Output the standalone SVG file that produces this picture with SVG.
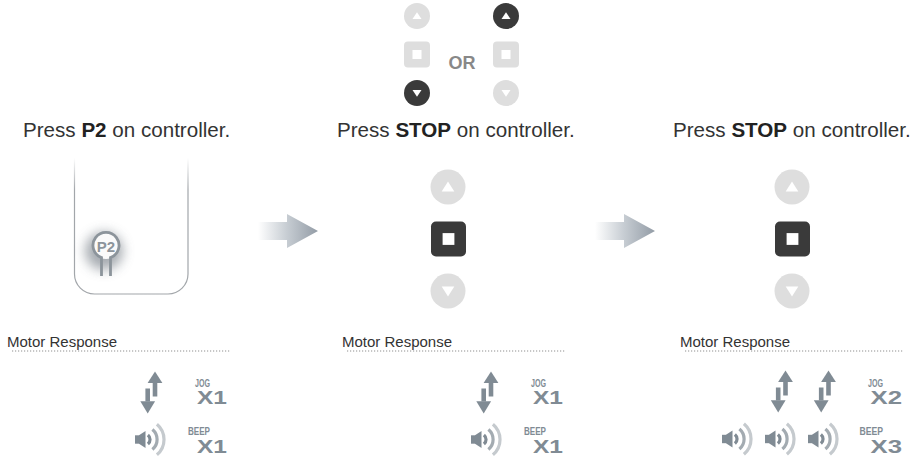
<svg xmlns="http://www.w3.org/2000/svg" width="921" height="460" viewBox="0 0 921 460">
<defs>
<style>
.title{font-family:"Liberation Sans",Arial,sans-serif;font-size:20.6px;fill:#333}
.title tspan.b{font-weight:bold;fill:#222}
.mr{font-family:"Liberation Sans",Arial,sans-serif;font-size:15px;fill:#333}
.dots{stroke:#8f8f8f;stroke-width:1.2;stroke-dasharray:1.2 1.8;fill:none}
.lt{fill:#dedede}
.dk{fill:#3a3a3a}
.wh{fill:#ffffff}
.ic{fill:#808b94}
.sm{font-family:"Liberation Sans",Arial,sans-serif;font-weight:bold;font-size:10.5px;fill:#808b94;text-anchor:end}
.big{font-family:"Liberation Sans",Arial,sans-serif;font-weight:bold;font-size:19px;fill:#808b94;text-anchor:end}
.a1{fill:none;stroke:#808b94;stroke-width:3.2}
.a2{fill:none;stroke:#a3abb1;stroke-width:3.2}
.a3{fill:none;stroke:#c5cace;stroke-width:3.2}
</style>
<linearGradient id="arrowGrad" x1="0" y1="0" x2="1" y2="0">
<stop offset="0" stop-color="#ffffff"/>
<stop offset="0.48" stop-color="#c7cdd3"/>
<stop offset="1" stop-color="#939ca6"/>
</linearGradient>
<linearGradient id="ctrlGrad" gradientUnits="userSpaceOnUse" x1="0" y1="158" x2="0" y2="190">
<stop offset="0" stop-color="#a2a6aa" stop-opacity="0"/>
<stop offset="1" stop-color="#a2a6aa" stop-opacity="1"/>
</linearGradient>
<filter id="glow" x="-100%" y="-100%" width="300%" height="300%">
<feGaussianBlur stdDeviation="6"/>
</filter>
<g id="jog">
<polygon class="ic" points="0,0 7.4,11.5 -7.4,11.5"/>
<rect class="ic" x="-2.3" y="11.3" width="4.6" height="13.7"/>
<rect class="ic" x="-9.6" y="17" width="4.6" height="13"/>
<polygon class="ic" points="-7.3,42 -14.7,29.7 0.1,29.7"/>
</g>
<g id="spk">
<rect class="ic" x="0" y="-4.2" width="4.5" height="8.4"/>
<polygon class="ic" points="4,-4.2 10.5,-8.5 10.5,8.5 4,4.2"/>
<path class="a1" d="M12.9,-4.6 A6,6 0 0 1 12.9,4.6"/>
<path class="a2" d="M17.4,-10 A13,13 0 0 1 17.4,10"/>
<path class="a3" d="M21.9,-15.3 A20,20 0 0 1 21.9,15.3"/>
</g>
<g id="btnUpL"><circle class="lt" r="17.5"/><polygon class="wh" points="0,-5.5 6.3,4.5 -6.3,4.5"/></g>
<g id="btnDnL"><circle class="lt" r="17.5"/><polygon class="wh" points="0,5.5 6.3,-4.5 -6.3,-4.5"/></g>
<g id="btnStopD"><rect class="dk" x="-17.5" y="-17.5" width="35" height="35" rx="5"/><rect class="wh" x="-5.9" y="-5.9" width="11.8" height="11.8"/></g>
</defs>
<rect width="921" height="460" fill="#ffffff"/>

<g id="choice">
<circle class="lt" cx="417" cy="16" r="13"/><polygon class="wh" points="417,12.3 421.5,19 412.5,19"/>
<rect class="lt" x="404" y="41.5" width="26" height="26" rx="4"/><rect class="wh" x="412.5" y="50" width="9" height="9"/>
<circle class="dk" cx="417" cy="93" r="13"/><polygon class="wh" points="417,96.7 421.5,90 412.5,90"/>
<circle class="dk" cx="506" cy="16" r="13"/><polygon class="wh" points="506,12.3 510.5,19 501.5,19"/>
<rect class="lt" x="493" y="41.5" width="26" height="26" rx="4"/><rect class="wh" x="501.5" y="50" width="9" height="9"/>
<circle class="lt" cx="506" cy="93" r="13"/><polygon class="wh" points="506,96.7 510.5,90 501.5,90"/>
<text x="462" y="69" text-anchor="middle" font-family="'Liberation Sans',Arial,sans-serif" font-weight="bold" font-size="18" fill="#888888">OR</text>
</g>

<g id="step1">
<text class="title" x="23" y="137">Press <tspan class="b">P2</tspan> on controller.</text>
<path d="M74.5,158 V274 A20,20 0 0 0 94.5,294 H168 A20,20 0 0 0 188,274 V158" fill="none" stroke="url(#ctrlGrad)" stroke-width="1.2"/>
<circle cx="104" cy="251" r="19" fill="#8a9198" opacity="0.75" filter="url(#glow)"/>
<circle cx="106" cy="246" r="13" fill="#fafafa"/>
<path d="M101.5,276 V257.6 A13,13 0 1 1 110.5,257.6 V276" fill="none" stroke="#8c949b" stroke-width="2.8"/>
<text x="106" y="251.6" text-anchor="middle" font-family="'Liberation Sans',Arial,sans-serif" font-weight="bold" font-size="15" fill="#8c949b">P2</text>
</g>

<g id="step2">
<text class="title" x="337" y="137">Press <tspan class="b">STOP</tspan> on controller.</text>
<use href="#btnUpL" x="448" y="187"/>
<use href="#btnStopD" x="448.5" y="239"/>
<use href="#btnDnL" x="448" y="291"/>
</g>

<g id="step3">
<text class="title" x="673" y="137">Press <tspan class="b">STOP</tspan> on controller.</text>
<use href="#btnUpL" x="792" y="187"/>
<use href="#btnStopD" x="792.5" y="239"/>
<use href="#btnDnL" x="792" y="291"/>
</g>

<g id="response1">
<text class="mr" x="7" y="346.5">Motor Response</text>
<line class="dots" x1="12" y1="351" x2="230" y2="351"/>
<use href="#jog" x="155" y="371.5"/>
<use href="#spk" x="135" y="439.5"/>
<text class="sm" x="210" y="386.5" textLength="15" lengthAdjust="spacingAndGlyphs">JOG</text>
<text class="big" x="227" y="404" textLength="30" lengthAdjust="spacingAndGlyphs">X1</text>
<text class="sm" x="210" y="435" textLength="22" lengthAdjust="spacingAndGlyphs">BEEP</text>
<text class="big" x="227" y="452.5" textLength="30" lengthAdjust="spacingAndGlyphs">X1</text>
</g>

<g id="response2">
<text class="mr" x="342" y="346.5">Motor Response</text>
<line class="dots" x1="347" y1="351" x2="565" y2="351"/>
<use href="#jog" x="491" y="371.5"/>
<use href="#spk" x="471" y="439.5"/>
<text class="sm" x="546" y="386.5" textLength="15" lengthAdjust="spacingAndGlyphs">JOG</text>
<text class="big" x="563" y="404" textLength="30" lengthAdjust="spacingAndGlyphs">X1</text>
<text class="sm" x="546" y="435" textLength="22" lengthAdjust="spacingAndGlyphs">BEEP</text>
<text class="big" x="563" y="452.5" textLength="30" lengthAdjust="spacingAndGlyphs">X1</text>
</g>

<g id="response3">
<text class="mr" x="680" y="346.5">Motor Response</text>
<line class="dots" x1="685" y1="351" x2="903" y2="351"/>
<use href="#jog" x="785.5" y="370.5"/>
<use href="#jog" x="828.5" y="370.5"/>
<use href="#spk" x="722" y="439"/>
<use href="#spk" x="765" y="439"/>
<use href="#spk" x="808" y="439"/>
<text class="sm" x="883" y="386.5" textLength="15" lengthAdjust="spacingAndGlyphs">JOG</text>
<text class="big" x="902" y="404" textLength="31.5" lengthAdjust="spacingAndGlyphs">X2</text>
<text class="sm" x="883" y="435" textLength="23.5" lengthAdjust="spacingAndGlyphs">BEEP</text>
<text class="big" x="902" y="452.5" textLength="31.5" lengthAdjust="spacingAndGlyphs">X3</text>
</g>

<g id="connectors">
<path d="M258,222 H287 V214 L318,231 L287,248 V240 H258 Z" fill="url(#arrowGrad)"/>
<path d="M595,222 H624 V214 L655,231 L624,248 V240 H595 Z" fill="url(#arrowGrad)"/>
</g>
</svg>
